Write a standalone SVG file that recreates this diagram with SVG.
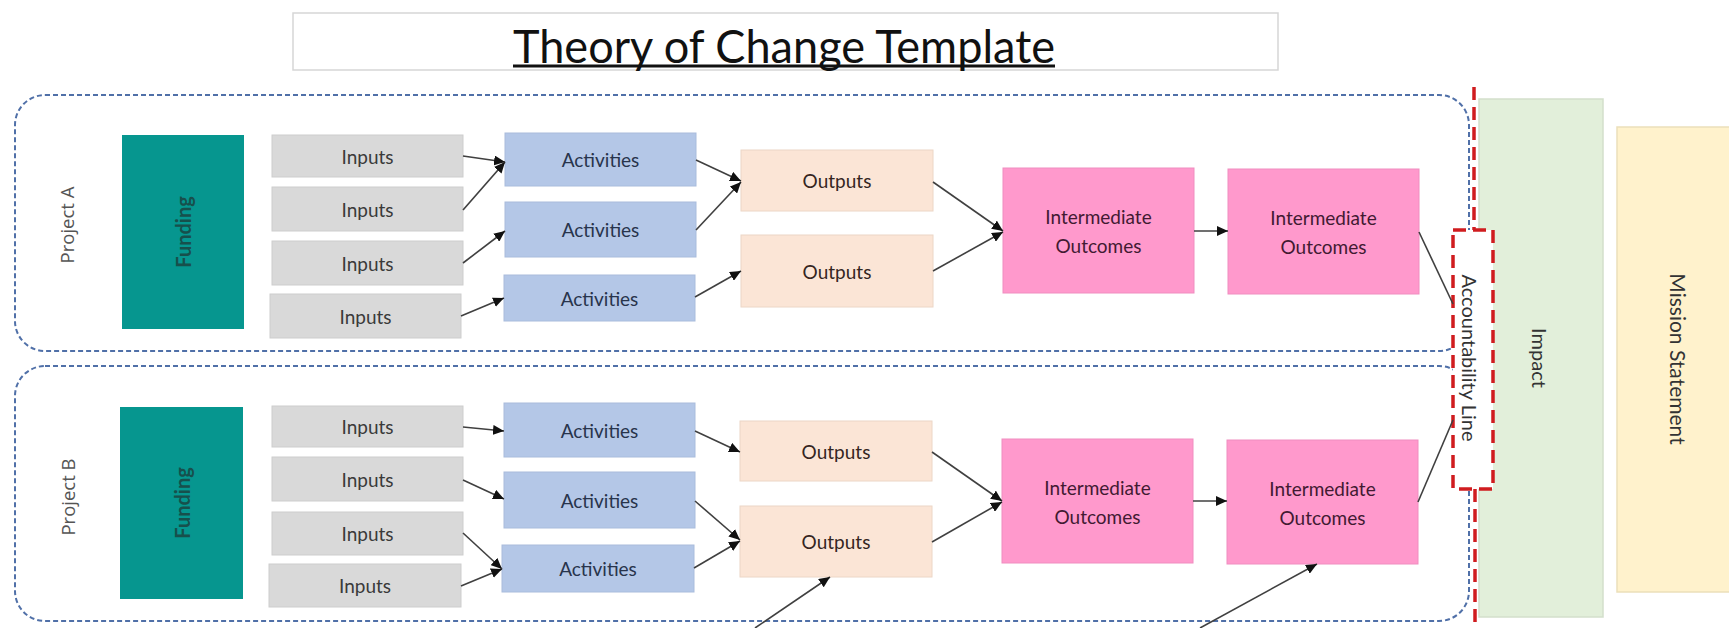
<svg xmlns="http://www.w3.org/2000/svg" width="1729" height="628" viewBox="0 0 1729 628">
<style>
text{font-family:Lato,"Open Sans","Liberation Sans",sans-serif;text-anchor:middle;dominant-baseline:central}
.lbl{font-size:19px}
.inp rect{fill:#d9d9d9;stroke:#cdcdcd;stroke-width:1}
.inp text{fill:#3a3a3a}
.act rect{fill:#b4c7e7;stroke:#a9bcdc;stroke-width:1}
.act text{fill:#28344c}
.out rect{fill:#fbe5d6;stroke:#ecd6c6;stroke-width:1}
.out text{fill:#35261f}
.io rect{fill:#ff99cc;stroke:#f08dc0;stroke-width:1}
.io text{fill:#421a32}
.fund rect{fill:#06968f}
.fund text{fill:#17504c;font-weight:700;font-size:20px}
.proj{fill:none;stroke:#5070a8;stroke-width:2;stroke-dasharray:5 3}
.plabel{fill:#555;font-size:18.5px;font-family:"Open Sans",Lato,sans-serif}
.conn line{stroke:#404040;stroke-width:1.6}
.red{stroke:#d01c1f;stroke-width:3.5;stroke-dasharray:13 7;fill:none}
</style>
<defs>
<marker id="ah" markerUnits="userSpaceOnUse" markerWidth="12" markerHeight="10" refX="11" refY="5" orient="auto">
<path d="M0,0 L11,5 L0,10 z" fill="#111"/>
</marker>
</defs>

<g id="title">
<rect x="293" y="13" width="985" height="57" fill="#fff" stroke="#d6d6d6" stroke-width="1.5"/>
<text x="784" y="45" font-size="46" fill="#111" textLength="542" lengthAdjust="spacingAndGlyphs">Theory of Change Template</text>
<line x1="513" y1="66" x2="1055" y2="66" stroke="#111" stroke-width="3"/>
</g>

<g id="project-a">
<rect class="proj" x="15" y="95" width="1454" height="256" rx="30"/>
<text class="plabel" transform="translate(66,225) rotate(-90)">Project A</text>
</g>
<g id="project-b">
<rect class="proj" x="15" y="366" width="1454" height="255" rx="30"/>
<text class="plabel" transform="translate(67,497) rotate(-90)">Project B</text>
</g>

<g id="impact">
<rect x="1479" y="99" width="124" height="518" fill="#e2efda" stroke="#d3dfcb" stroke-width="1.5"/>
<text transform="translate(1540,358) rotate(90)" font-size="20" fill="#333">Impact</text>
</g>
<g id="mission">
<rect x="1617" y="127" width="120" height="465" fill="#fff2cc" stroke="#ebdfba" stroke-width="1.5"/>
<text transform="translate(1678,359) rotate(90)" font-size="21" fill="#333">Mission Statement</text>
</g>

<g id="accountability">
<line class="red" x1="1474" y1="87" x2="1474" y2="230"/>
<line class="red" x1="1475" y1="489" x2="1475" y2="628"/>
<rect class="red" x="1453" y="230" width="40" height="259" style="fill:#fff"/>
<text transform="translate(1470,358) rotate(90)" font-size="20" fill="#333">Accountability Line</text>
</g>

<g id="funding-a" class="fund"><rect x="122" y="135" width="122" height="194"/><text transform="translate(183,232) rotate(-90)">Funding</text></g>
<g id="funding-b" class="fund"><rect x="120" y="407" width="123" height="192"/><text transform="translate(181.5,503) rotate(-90)">Funding</text></g>

<g id="inputs-a1" class="inp"><rect x="272" y="135" width="191" height="42"/><text class="lbl" x="367.5" y="156">Inputs</text></g>
<g id="inputs-a2" class="inp"><rect x="272" y="187" width="191" height="44"/><text class="lbl" x="367.5" y="209">Inputs</text></g>
<g id="inputs-a3" class="inp"><rect x="272" y="241" width="191" height="44"/><text class="lbl" x="367.5" y="263">Inputs</text></g>
<g id="inputs-a4" class="inp"><rect x="270" y="294" width="191" height="44"/><text class="lbl" x="365.5" y="316">Inputs</text></g>

<g id="activities-a1" class="act"><rect x="505" y="133" width="191" height="53"/><text class="lbl" x="600.5" y="159.5">Activities</text></g>
<g id="activities-a2" class="act"><rect x="505" y="202" width="191" height="55"/><text class="lbl" x="600.5" y="229.5">Activities</text></g>
<g id="activities-a3" class="act"><rect x="504" y="275" width="191" height="46"/><text class="lbl" x="599.5" y="298">Activities</text></g>

<g id="outputs-a1" class="out"><rect x="741" y="150" width="192" height="61"/><text class="lbl" x="837" y="180.5">Outputs</text></g>
<g id="outputs-a2" class="out"><rect x="741" y="235" width="192" height="72"/><text class="lbl" x="837" y="271">Outputs</text></g>

<g id="io-a1" class="io"><rect x="1003" y="168" width="191" height="125"/><text class="lbl" x="1098.5" y="216">Intermediate</text><text class="lbl" x="1098.5" y="245">Outcomes</text></g>
<g id="io-a2" class="io"><rect x="1228" y="169" width="191" height="125"/><text class="lbl" x="1323.5" y="217">Intermediate</text><text class="lbl" x="1323.5" y="246">Outcomes</text></g>

<g id="inputs-b1" class="inp"><rect x="272" y="406" width="191" height="41"/><text class="lbl" x="367.5" y="426.5">Inputs</text></g>
<g id="inputs-b2" class="inp"><rect x="272" y="457" width="191" height="44"/><text class="lbl" x="367.5" y="479">Inputs</text></g>
<g id="inputs-b3" class="inp"><rect x="272" y="512" width="191" height="43"/><text class="lbl" x="367.5" y="533.5">Inputs</text></g>
<g id="inputs-b4" class="inp"><rect x="269" y="564" width="192" height="43"/><text class="lbl" x="365" y="585.5">Inputs</text></g>

<g id="activities-b1" class="act"><rect x="504" y="403" width="191" height="54"/><text class="lbl" x="599.5" y="430">Activities</text></g>
<g id="activities-b2" class="act"><rect x="504" y="472" width="191" height="56"/><text class="lbl" x="599.5" y="500">Activities</text></g>
<g id="activities-b3" class="act"><rect x="502" y="545" width="192" height="47"/><text class="lbl" x="598" y="568.5">Activities</text></g>

<g id="outputs-b1" class="out"><rect x="740" y="421" width="192" height="60"/><text class="lbl" x="836" y="451">Outputs</text></g>
<g id="outputs-b2" class="out"><rect x="740" y="506" width="192" height="71"/><text class="lbl" x="836" y="541.5">Outputs</text></g>

<g id="io-b1" class="io"><rect x="1002" y="439" width="191" height="124"/><text class="lbl" x="1097.5" y="487">Intermediate</text><text class="lbl" x="1097.5" y="516">Outcomes</text></g>
<g id="io-b2" class="io"><rect x="1227" y="440" width="191" height="124"/><text class="lbl" x="1322.5" y="488">Intermediate</text><text class="lbl" x="1322.5" y="517">Outcomes</text></g>

<g id="connectors" class="conn">
<line x1="463" y1="156" x2="505" y2="162" marker-end="url(#ah)"/>
<line x1="463" y1="210" x2="505" y2="162" marker-end="url(#ah)"/>
<line x1="463" y1="263" x2="505" y2="231" marker-end="url(#ah)"/>
<line x1="461" y1="316" x2="504" y2="298" marker-end="url(#ah)"/>
<line x1="696" y1="160" x2="741" y2="181" marker-end="url(#ah)"/>
<line x1="696" y1="230" x2="741" y2="182" marker-end="url(#ah)"/>
<line x1="695" y1="297" x2="741" y2="271" marker-end="url(#ah)"/>
<line x1="933" y1="182" x2="1003" y2="231" marker-end="url(#ah)"/>
<line x1="933" y1="271" x2="1003" y2="232" marker-end="url(#ah)"/>
<line x1="1194" y1="231" x2="1228" y2="231" marker-end="url(#ah)"/>
<line x1="1419" y1="232" x2="1453" y2="304"/>

<line x1="463" y1="427" x2="504" y2="431" marker-end="url(#ah)"/>
<line x1="463" y1="480" x2="504" y2="499" marker-end="url(#ah)"/>
<line x1="463" y1="533" x2="502" y2="569" marker-end="url(#ah)"/>
<line x1="461" y1="586" x2="502" y2="569" marker-end="url(#ah)"/>
<line x1="695" y1="431" x2="740" y2="452" marker-end="url(#ah)"/>
<line x1="695" y1="501" x2="740" y2="540" marker-end="url(#ah)"/>
<line x1="694" y1="568" x2="740" y2="541" marker-end="url(#ah)"/>
<line x1="932" y1="452" x2="1002" y2="501" marker-end="url(#ah)"/>
<line x1="932" y1="542" x2="1002" y2="502" marker-end="url(#ah)"/>
<line x1="1193" y1="501" x2="1227" y2="501" marker-end="url(#ah)"/>
<line x1="1418" y1="502" x2="1453" y2="420"/>
<line x1="755" y1="628" x2="830" y2="577" marker-end="url(#ah)"/>
<line x1="1200" y1="628" x2="1317" y2="564" marker-end="url(#ah)"/>
</g>
</svg>
